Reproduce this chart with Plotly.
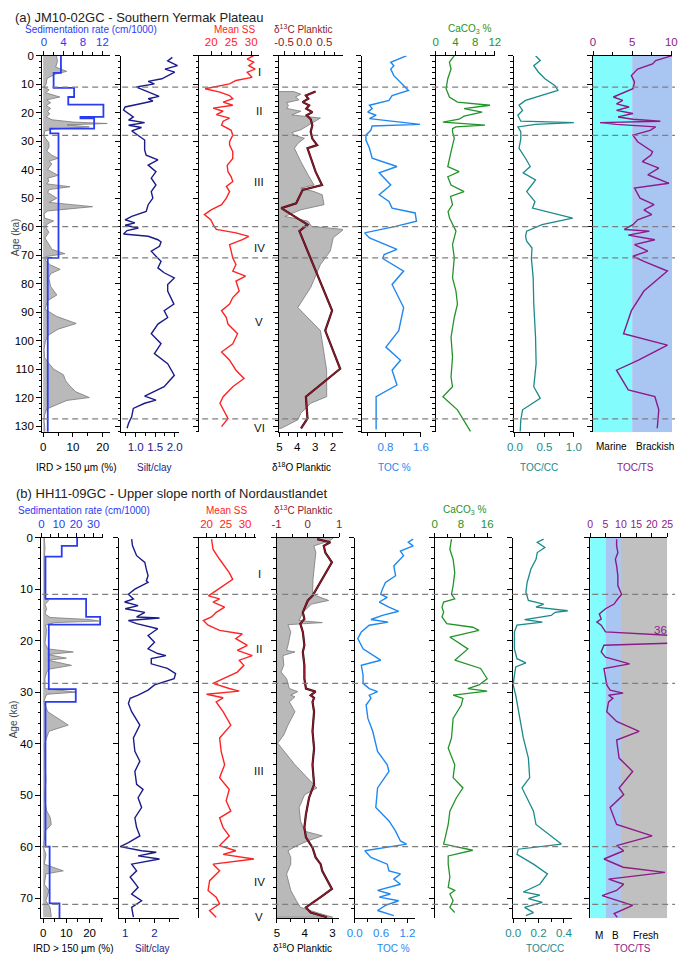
import plotly.graph_objects as go

# ======================= DATA (a) JM10-02GC =======================
ird_a = [(0,4.5),(2,4.8),(4,4.2),(5.5,7.9),(6.5,4.0),(8,1.3),(10,1.0),(11,0.3),(12,2.0),(13,0.8),
         (14.5,5.6),(15.5,1.2),(16.5,2.5),(17.5,1.0),(18.5,2.5),(19.5,1.5),(20.5,2.2),(21.5,1.0),
         (22.5,3.0),(23.3,10),(23.8,21.5),(24.3,8),(25,15.5),(25.8,3),(26.5,0.5),(28,0.3),(29,0.8),
         (30.5,1.9),(32,2.0),(33.5,1.2),(35,3.0),(36,5.1),(37,2.0),(38,2.9),(40,1.5),(42,5.0),(43,1.5),
         (44,1.9),(45,1.2),(46,9.0),(47,2.0),(48,1.5),(50,4.6),(51.5,2.0),(53,16.6),(54.5,1.5),
         (55.5,0.3),(57,0.5),(58,3.5),(59,1.5),(60,0.8),(62,1.9),(64,0.6),(66,1.9),(68,3.0),(69.5,7.3),
         (70.5,1.0),(72,0.8),(73.5,2.5),(75,5.7),(76.5,2.5),(78,1.9),(81,2.5),(84,4.6),(86,1.5),(89,0.6),
         (91.5,4.5),(94,11.1),(96,5),(98,1.9),(100,0.8),(103,0.3),(106,0.5),(108,1.9),(110,3.5),
         (112,6.8),(114,7.5),(116,9.0),(118,11),(120,15.5),(121,8),(122,5.7),(124,1.2),(126,0.5),
         (128,0.3),(130,0.5),(132,0.6)]
sed_a_tops = [0, 6, 11.3, 14.5, 17.2, 21.5, 22, 25.6, 27.3, 71]
sed_a_rates = [3.5, 2.0, 6.2, 5.0, 12.2, 7.5, 10.3, 1.3, 3.0, 0.8]
sed_a_base = 132
silt_a = [(0.6,1.94),(1.8,1.82),(3.5,2.07),(4.7,1.75),(5.8,2.0),(7.0,1.82),(8.1,1.67),(9.0,1.32),
          (9.9,1.48),(11.0,1.02),(12.2,1.23),(13.3,1.40),(14.3,1.6),(15.1,1.32),(15.9,1.44),(16.8,1.15),
          (18.0,0.73),(19.1,0.69),(20.3,0.82),(21.5,0.94),(22.6,0.82),(23.5,1.23),(24.4,0.82),(25.2,1.15),
          (26.4,0.9),(27.9,1.05),(29.6,1.23),(31.4,1.23),(33.1,1.23),(34.9,1.27),(36.6,1.57),(38.4,1.32),
          (40.7,1.52),(43.0,1.40),(45.4,1.52),(47.7,1.40),(50.0,1.44),(52.3,1.32),(54.7,1.27),(56.4,0.9),
          (57.6,0.73),(58.7,0.98),(59.5,0.73),(60.5,1.07),(61.4,0.78),(62.6,0.69),(63.4,1.32),(64.6,1.57),
          (65.4,1.65),(66.9,1.61),(68.6,1.40),(70.4,1.52),(72.2,1.65),(74.5,1.57),(76.2,1.73),(78.0,1.99),
          (80.3,1.82),(82.6,1.82),(84.9,1.9),(87.2,1.98),(89.5,1.73),(91.9,1.82),(94.2,1.57),(97.6,1.40),
          (101.1,1.65),(104.6,1.48),(108.1,1.82),(112.2,1.99),(116.2,1.73),(119.5,1.23),(120.9,1.52),
          (122.0,1.23),(123.8,0.94),(126.7,0.9),(129.0,0.82),(130.8,0.78)]
ss_a = [(0,30.6),(1.2,29.0),(2.3,30.6),(3.5,29.4),(4.7,31.0),(5.8,29.0),(7.6,30.2),(8.7,26.2),(9.9,24.6),
        (10.7,21.3),(11.6,18.5),(12.8,22.2),(14.0,24.6),(15.1,25.4),(16.3,23.0),(17.4,25.4),(18.4,20.5),
        (19.5,23.0),(20.7,21.3),(21.9,24.6),(23.0,23.0),(24.4,22.6),(26.2,25.0),(27.9,25.4),(30.2,24.6),
        (31.4,24.6),(33.7,25.4),(36.1,25.4),(38.5,24.0),(40.7,24.2),(42.5,25.0),(44.2,25.4),(45.9,23.8),
        (47.7,24.6),(50.0,23.8),(52.3,22.6),(54.1,20.0),(55.8,18.3),(57.6,19.9),(59.3,20.5),(61.0,21.3),
        (62.2,26.2),(63.4,29.4),(64.6,27.8),(66.3,24.6),(68.6,25.0),(71.0,25.4),(73.3,26.2),(75.6,25.4),
        (77.4,28.6),(79.1,26.2),(82.6,27.0),(84.9,25.4),(87.2,24.6),(89.5,22.6),(91.9,23.8),(94.2,24.2),
        (97.6,26.6),(101.1,25.4),(104.0,22.6),(106.9,24.6),(110.4,26.2),(113.3,28.2),(116.2,25.4),
        (119.7,23.0),(122.0,22.2),(125.0,23.4),(127.3,24.2),(130.2,22.6)]
d18o_a = [(12.6,4.2),(13.5,3.8),(14.5,4.1),(15.5,3.9),(16.5,4.6),(17.5,4.5),(18.5,4.6),(19.5,3.8),
          (20.8,4.3),(21.9,2.7),(23,3.0),(24,3.25),(26,3.8),(27,4.3),(27.9,4.16),(29,3.6),(30.8,3.97),
          (32.5,4.16),(37.2,3.8),(41.8,3.4),(45.4,3.06),(46.5,3.8),(47.7,3.06),(48.8,2.6),(52.3,2.5),
          (54.1,3.8),(56.4,4.7),(58.1,3.4),(59.9,3.2),(61,1.4),(63.9,1.98),(68.6,2.15),(73.3,2.7),
          (81.4,3.25),(88.4,3.97),(96.5,2.7),(104.6,2.5),(110.4,2.35),(119.7,2.35),(122,3.25),
          (125.5,3.8),(127.8,3.97),(130.8,4.9)]
d13c_a = [(12.6,0.28),(14.0,0.04),(15.1,0.1),(16.3,-0.04),(17.4,0.12),(18.6,0.05),(19.8,0.2),(20.9,0.06),
          (22.3,0.16),(24.4,0.2),(26.7,0.16),(29.1,0.2),(31.4,0.32),(32.5,0.08),(40.7,0.28),(45.4,0.44),
          (47.1,-0.04),(51.8,-0.2),(53.5,-0.57),(59.3,0.08),(61.6,-0.12),(89.5,0.69),(96.5,0.52),
          (109.9,0.89),(119.7,0.04),(127.3,0.08),(130.8,-0.08)]
toc_a = [(0,1.28),(2.3,0.92),(3.5,0.99),(4.7,0.92),(7.0,0.99),(9.3,1.14),(12.2,1.32),(14.0,0.95),
         (15.7,0.88),(17.4,0.44),(18.6,0.5),(19.8,0.4),(20.9,0.59),(22.1,0.44),(23.5,1.25),(24.1,1.58),
         (24.7,0.5),(26.2,0.47),(27.9,0.36),(29.6,0.36),(32.5,0.44),(36.0,0.5),(38.9,1.06),(41.1,0.66),
         (45.4,0.92),(48.8,0.66),(51.2,0.88),(53.5,0.95),(55.2,1.47),(58.1,1.5),(59.9,1.03),(62.2,0.33),
         (64.0,0.44),(66.3,0.81),(68.0,1.06),(69.8,0.77),(71.2,0.74),(75.6,1.21),(80.3,0.95),(88.4,1.21),
         (96.5,1.1),(102.3,0.81),(106.9,1.14),(110.4,0.95),(115.6,1.06),(119.7,0.59),(125.5,0.59),
         (131.2,0.59)]
caco3_a = [(0,3.76),(2.3,2.77),(4.7,3.1),(8.1,2.44),(11.6,2.1),(14.5,2.77),(16.3,4.4),(17.4,11.0),
           (18.6,5.74),(19.8,9.4),(21.2,5.74),(22.3,4.75),(23.3,1.45),(24.0,7.05),(24.4,10.0),(25.0,4.1),
           (25.6,3.4),(26.7,3.4),(29.0,3.76),(33.7,3.1),(38.9,2.44),(40.7,4.75),(42.5,2.44),(45.4,3.1),
           (47.7,5.74),(49.4,3.0),(52.3,3.4),(54.7,2.5),(57.0,2.8),(61.6,4.1),(66.3,3.4),(70.9,3.76),
           (78.0,3.4),(82.6,4.1),(87.2,4.4),(91.9,3.76),(98.8,3.1),(105.8,3.4),(112.8,3.1),(116.2,3.4),
           (119.7,1.45),(124.3,4.4),(127.3,5.4),(131.9,7.05)]
toccc_a = [(0,0.35),(1.7,0.43),(3.5,0.32),(5.8,0.40),(8.1,0.51),(10.5,0.68),(12.2,0.73),(14.0,0.46),
           (15.7,0.18),(17.4,0.07),(19.2,0.13),(20.9,0.05),(23.0,0.1),(23.5,1.0),(24.1,0.35),(25.0,0.05),
           (26.7,0.1),(29.1,0.1),(32.5,0.07),(36.0,0.18),(38.9,0.26),(41.1,0.14),(43.6,0.35),(47.7,0.2),
           (51.2,0.34),(53.5,0.3),(57.0,0.98),(59.3,0.46),(61.6,0.2),(63.4,0.18),(65.1,0.2),(67.5,0.29),
           (71.2,0.28),(78.0,0.31),(87.2,0.32),(98.8,0.35),(108.1,0.36),(116.2,0.32),(120.3,0.43),
           (124.3,0.13),(127.8,0.1),(131.9,0.09)]
tocts_a = [(0,10.1),(1.7,8.0),(2.9,7.6),(4.7,5.7),(7.0,4.9),(9.3,5.3),(11.6,5.1),(13.4,3.4),(14.5,2.6),
           (15.7,3.8),(16.9,3.0),(18.0,4.6),(19.2,3.0),(20.3,5.1),(21.5,3.2),(22.3,5.1),(23.0,8.6),
           (23.5,0.9),(24.1,3.0),(25.0,8.0),(26.2,7.3),(27.9,5.1),(30.2,5.7),(33.7,7.6),(34.9,7.4),
           (37.2,6.3),(39.5,8.4),(41.8,7.0),(44.8,9.7),(46.5,5.3),(50.0,6.0),(52.3,7.8),(54.1,6.5),
           (55.8,7.5),(57.6,5.7),(59.3,5.1),(61.0,4.0),(61.6,7.2),(63.0,4.5),(64.6,7.9),(66.3,5.3),
           (68.6,7.0),(70.4,5.1),(72.2,6.5),(75.6,9.5),(82.6,6.5),(89.5,4.9),(97.6,3.9),(101.6,9.5),
           (106.9,5.8),(110.4,3.0),(117.3,4.5),(119.7,7.9),(124.3,8.4),(130.8,8.2)]
mis_a = [11, 28, 60, 71, 127.5]
roman_a = [("I", 5.8), ("II", 19.4), ("III", 44.2), ("IV", 67.4), ("V", 93.6), ("VI", 130.8)]

# ======================= DATA (b) HH11-09GC =======================
ird_b = [(0,0.5),(2,0.8),(4,0.5),(6,0.6),(8,0.5),(10,0.6),(11.5,0.5),(12.2,2.4),(13,0.8),(13.8,1.5),
         (14.8,0.8),(15.5,3),(15.9,20),(16.2,24),(16.5,5),(17,1.0),(18,1.5),(19.6,1.2),(20.5,0.8),
         (21.6,2.0),(22.2,13),(22.7,2.0),(23.4,10),(23.8,2.0),(24.8,12.2),(25.5,3),(26.1,1.5),(27.3,0.8),
         (29.3,0.8),(30.0,14.3),(30.4,2),(30.7,1.2),(31.9,0.3),(33.8,2.0),(35.1,6.6),(36.4,10.8),
         (37.6,2.5),(40.2,0.5),(44.1,0.8),(47,1.2),(50.5,0.5),(53,1.5),(54.4,3.1),(55.7,3.5),(57.0,0.8),
         (60.2,0.2),(61.5,1.2),(63.4,0.5),(64.7,8.7),(65.3,1.2),(67.3,0.5),(68.5,2.5),(70.5,1.2),
         (71.8,3.0),(73.7,3.5)]
sed_b_tops = [0, 1.6, 3.7, 11.9, 15.4, 16.9, 29.4, 31.9, 60, 71]
sed_b_rates = [20.6, 11.7, 2.3, 25.8, 33.9, 4.2, 19.8, 2.3, 4.7, 10.4]
sed_b_base = 74
silt_b = [(0.3,1.22),(1.6,1.25),(3.5,1.39),(4.8,1.67),(6.1,1.72),(7.4,1.78),(8.4,1.72),(8.7,1.78),
          (10.0,1.33),(11.0,1.11),(11.9,1.28),(12.5,0.98),(13.2,1.44),(13.8,1.0),(14.5,1.67),(15.4,1.39),
          (15.6,2.17),(16.1,1.11),(16.7,1.39),(17.7,2.11),(19.0,1.78),(20.3,2.0),(21.6,1.78),(22.5,2.11),
          (22.9,2.39),(23.5,1.89),(24.5,1.89),(25.4,2.44),(26.4,2.72),(27.4,2.67),(28.6,2.0),(29.6,1.78),
          (30.6,1.44),(31.2,1.17),(32.2,1.11),(33.8,1.22),(36.4,1.5),(38.9,1.28),(41.5,1.33),(43.4,1.5),
          (45.4,1.33),(47.9,1.39),(48.9,1.61),(50.5,1.44),(52.4,1.56),(54.4,1.33),(56.3,1.39),(57.9,1.5),
          (59.2,1.11),(60.0,0.83),(60.8,1.56),(61.1,2.06),(61.8,1.44),(62.4,2.17),(63.4,1.22),(64.7,1.39),
          (65.9,1.17),(67.9,1.44),(69.2,1.22),(70.5,1.56),(71.8,1.22),(73.7,1.28)]
ss_b = [(0.3,21.3),(2.3,21.7),(4.2,23.4),(5.5,24.7),(6.8,25.9),(8.1,26.8),(9.3,24.3),(10.3,22.5),
        (11.3,20.5),(11.9,23.4),(12.5,21.7),(13.5,24.7),(14.5,22.5),(15.4,21.3),(16.1,19.2),(17.0,20.4),
        (18.0,23.4),(18.7,29.3),(19.6,27.6),(20.9,30.6),(21.9,28.0),(22.9,31.9),(23.8,28.5),(24.8,29.7),
        (26.1,28.0),(27.4,24.3),(28.3,21.7),(29.3,25.9),(29.8,28.5),(30.4,20.0),(31.1,24.3),(31.9,22.5),
        (33.8,24.3),(36.4,26.3),(38.9,23.4),(41.5,23.8),(44.1,24.7),(46.6,23.4),(48.9,25.9),(51.1,25.1),
        (53.1,26.3),(54.4,23.4),(56.3,24.3),(57.9,25.9),(59.8,23.4),(60.8,27.6),(61.5,24.3),(62.4,32.3),
        (63.4,21.7),(64.7,23.4),(66.6,20.8),(68.5,20.4),(69.8,22.5),(71.1,23.4),(72.4,20.8),(73.7,22.5)]
d18o_b = [(0,2.96),(0.6,3.1),(1.6,3.67),(2.9,3.6),(5,3.65),(8,3.7),(11,3.72),(12.2,3.14),(12.9,3.75),
          (14.5,4.07),(16.1,4.2),(16.5,3.37),(16.9,4.6),(18.3,4.5),(20.9,4.6),(21.9,4.65),(22.2,4.35),
          (22.9,4.78),(24.8,4.75),(26.1,4.85),(27.4,4.65),(28.3,4.6),(29.3,4.55),(29.9,4.25),(30.6,4.5),
          (30.9,4.35),(31.9,4.55),(33.8,4.35),(36.4,4.6),(38.3,4.75),(39.9,4.97),(44.1,4.35),(47.4,3.78),
          (48.6,3.56),(49.9,4.0),(52.4,4.2),(55.0,4.15),(57.0,4.0),(57.9,3.37),(58.9,3.9),(60.0,4.35),
          (60.8,4.6),(62.1,4.5),(63.4,4.5),(65.3,4.65),(66.6,4.6),(68.5,4.5),(70.5,4.3),(71.8,4.15),
          (73.0,3.45),(73.7,3.0)]
d13c_b = [(0.3,0.30),(0.9,0.72),(1.6,0.51),(2.9,0.56),(4.8,0.77),(11.3,0.15),(12.2,0.0),(14.5,-0.16),
          (15.8,-0.11),(16.7,-0.24),(18.3,-0.16),(20.9,-0.11),(22.2,-0.16),(24.8,-0.11),(27.4,-0.11),
          (29.3,-0.06),(29.9,0.25),(30.6,0.09),(31.1,0.2),(31.9,0.15),(33.8,0.2),(37.6,0.15),(40.9,0.2),
          (44.1,0.15),(47.9,0.2),(50.5,0.04),(53.7,-0.06),(56.3,-0.11),(58.2,-0.06),(60.2,0.15),
          (62.1,0.25),(63.4,0.41),(64.7,0.46),(68.2,0.77),(69.8,0.41),(71.8,-0.06),(72.8,0.09),(73.7,0.61)]
toc_b = [(0.3,1.33),(0.9,1.22),(1.6,1.33),(2.6,1.04),(3.5,1.11),(5.5,0.89),(7.4,0.93),(8.7,0.7),
         (10.0,0.63),(11.0,0.59),(11.6,0.74),(12.5,0.56),(13.5,0.78),(14.3,1.0),(15.1,0.63),(15.9,0.37),
         (16.4,0.76),(17.0,0.33),(18.3,0.15),(19.6,0.07),(21.6,0.19),(23.8,0.59),(24.8,0.15),(26.7,0.19),
         (28.3,0.19),(29.3,0.33),(29.9,0.52),(30.6,0.33),(31.2,0.37),(32.5,0.26),(35.1,0.3),(37.6,0.41),
         (41.5,0.52),(44.1,0.74),(45.4,0.78),(48.6,0.52),(52.4,0.48),(55.0,0.78),(57.0,0.93),(58.9,1.04),
         (59.5,1.18),(60.8,0.23),(62.1,0.37),(63.4,0.74),(64.7,0.78),(65.3,1.04),(66.3,0.89),(67.3,1.04),
         (68.5,0.52),(69.2,0.81),(69.8,0.56),(70.5,1.0),(71.4,0.7),(72.4,0.52),(73.4,0.89)]
caco3_b = [(0.3,5.1),(2.3,4.6),(4.2,5.6),(6.8,6.1),(9.3,5.6),(11.0,5.1),(11.9,6.1),(12.5,2.7),(13.5,2.2),
           (14.5,2.7),(15.4,2.2),(16.7,3.65),(17.4,11.6),(18.0,13.5),(19.3,4.6),(21.6,10.1),(23.8,6.1),
           (25.4,14.0),(27.4,16.0),(28.6,13.5),(29.3,10.1),(29.8,16.0),(30.6,5.6),(31.2,8.6),(32.5,8.1),
           (35.1,5.6),(38.9,5.1),(40.9,4.1),(44.1,6.1),(46.6,5.6),(48.6,8.6),(50.5,6.6),(53.1,4.6),
           (55.7,4.1),(58.2,3.2),(59.5,2.7),(60.7,11.6),(61.8,4.1),(63.4,4.1),(65.9,4.6),(67.9,4.1),
           (68.5,6.1),(69.2,4.6),(70.5,5.6),(71.8,4.6),(72.8,6.1)]
toccc_b = [(0.3,0.24),(0.9,0.19),(1.9,0.25),(2.9,0.19),(4.2,0.18),(6.1,0.14),(8.7,0.11),(10.6,0.1),
           (12.2,0.12),(12.9,0.24),(13.5,0.18),(14.2,0.43),(14.5,0.33),(15.1,0.3),(15.9,0.09),(16.4,0.23),
           (17.0,0.03),(18.3,0.01),(21.6,0.01),(23.5,0.03),(24.3,0.1),(25.1,0.02),(26.7,0.01),(28.6,0.0),
           (30.6,0.02),(34.4,0.05),(38.9,0.08),(42.8,0.12),(46.6,0.13),(48.6,0.07),(53.1,0.16),(55.7,0.18),
           (58.2,0.31),(59.5,0.38),(60.5,0.04),(61.5,0.03),(63.4,0.16),(65.3,0.27),(67.3,0.21),(68.8,0.08),
           (69.4,0.21),(70.1,0.12),(70.8,0.23),(71.8,0.09),(72.8,0.16),(73.4,0.1)]
tocts_b = [(0.3,8.6),(1.6,8.6),(2.9,9.0),(4.2,8.2),(5.5,8.6),(7.4,9.0),(9.3,9.0),(11.0,10.2),(12.2,8.6),
           (12.9,7.8),(13.8,5.0),(14.8,3.0),(15.8,3.6),(16.4,2.2),(17.0,3.6),(18.3,5.0),(19.3,36),
           (20.3,36),(20.9,4.5),(22.2,3.6),(23.2,5.0),(24.5,12.8),(25.4,4.5),(27.4,5.0),(28.6,5.4),
           (29.6,6.5),(30.2,10.7),(30.6,6.0),(31.2,7.4),(31.9,6.0),(33.8,5.4),(35.7,8.6),(37.6,15.9),
           (39.3,8.6),(42.8,9.4),(45.4,13.8),(48.6,9.4),(49.9,10.9),(52.4,6.5),(55.7,8.6),(57.9,20.1),
           (59.8,8.6),(60.8,10.9),(62.4,4.5),(64.0,10.7),(65.0,24.3),(66.3,6.0),(67.3,10.9),(68.5,8.6),
           (69.5,3.9),(71.4,13.8),(73.0,7.8),(73.7,8.8)]
mis_b = [11, 28.3, 60, 71.2]
roman_b = [("I", 7.1), ("II", 21.6), ("III", 45.4), ("IV", 66.9), ("V", 73.7)]

# ======================= STYLE =======================
W, H = 685, 955
FONT = "Arial, Liberation Sans, sans-serif"
C_SED = "#2a3cf2"
C_SILT = "#1b1b8c"
C_SS = "#ff2323"
C_D13 = "#8c1a2c"
C_TOC = "#1e88f0"
C_CACO3 = "#23942a"
C_TOCCC = "#1a8a8c"
C_TOCTS = "#8c1a88"
C_FILL = "#b9b9b9"
C_EDGE = "#7a7a7a"

fig = go.Figure()
layout = {}
cnt = {"x": 0, "y": 0}


def ref(k, n):
    return k if n == 1 else f"{k}{n}"


def key(k, n):
    return f"{k}axis" if n == 1 else f"{k}axis{n}"


def spec(side, rng, vals, texts, color, minor=None, size=11.5):
    return dict(side=side, range=rng, tickvals=vals, ticktext=texts, color=color, minor=minor, size=size)


def column(left, right, panel, specs, ylabels=False):
    cnt["y"] += 1
    yid = cnt["y"]
    xids = []
    for i, s in enumerate(specs):
        cnt["x"] += 1
        xid = cnt["x"]
        ax = dict(range=s["range"], side=s["side"], anchor=ref("y", yid), showline=True,
                  linecolor="black", linewidth=1, ticks="outside", ticklen=4, tickwidth=1,
                  tickcolor="black", tickmode="array", tickvals=s["tickvals"], ticktext=s["ticktext"],
                  tickfont=dict(family=FONT, size=s["size"], color=s["color"]),
                  showgrid=False, zeroline=False, fixedrange=True)
        if s["minor"]:
            ax["minor"] = dict(tickmode="array", tickvals=s["minor"], ticks="outside", ticklen=2.5,
                               tickcolor="black", showgrid=False)
        if i == 0:
            ax["domain"] = [left / W, right / W]
        else:
            ax["overlaying"] = ref("x", xids[0])
        layout[key("x", xid)] = ax
        xids.append(xid)
    layout[key("y", yid)] = dict(domain=[1 - panel["bot"] / H, 1 - panel["top"] / H], range=panel["yr"],
                                 anchor=ref("x", xids[0]), side="left", showline=True, linecolor="black",
                                 linewidth=1, ticks="outside", ticklen=5, tickwidth=1, tickcolor="black",
                                 tick0=0, dtick=10, showticklabels=ylabels,
                                 minor=dict(dtick=2, ticks="outside", ticklen=2.5, tickcolor="black",
                                            showgrid=False),
                                 tickfont=dict(family=FONT, size=11.5, color="black"),
                                 showgrid=False, zeroline=False, fixedrange=True)
    return yid, xids


def unzip(pairs):
    return [p[1] for p in pairs], [p[0] for p in pairs]


def steps(tops, rates, base):
    xs, ys = [], []
    for t, b, r in zip(tops, tops[1:] + [base], rates):
        xs += [r, r]
        ys += [t, b]
    return xs, ys


def line(xid, yid, pairs_or_xy, color, width=1.3, xy=False):
    xs, ys = pairs_or_xy if xy else unzip(pairs_or_xy)
    fig.add_trace(go.Scatter(x=xs, y=ys, mode="lines", line=dict(color=color, width=width),
                             xaxis=ref("x", xid), yaxis=ref("y", yid), showlegend=False, hoverinfo="skip"))


def fill_zero(xid, yid, pairs):
    xs, ys = unzip(pairs)
    fig.add_trace(go.Scatter(x=xs, y=ys, mode="lines", fill="tozerox", fillcolor=C_FILL,
                             line=dict(color=C_EDGE, width=0.8), xaxis=ref("x", xid), yaxis=ref("y", yid),
                             showlegend=False, hoverinfo="skip"))


def fill_base(xid, yid, pairs, base):
    xs, ys = unzip(pairs)
    fig.add_trace(go.Scatter(x=[base] + xs + [base], y=[ys[0]] + ys + [ys[-1]], mode="lines", fill="toself",
                             fillcolor=C_FILL, line=dict(color=C_EDGE, width=0.8), xaxis=ref("x", xid),
                             yaxis=ref("y", yid), showlegend=False, hoverinfo="skip"))


shapes = []
annots = []


def txt(s, x, y, color="black", size=11, xanchor="center", angle=0):
    annots.append(dict(text=s, x=x / W, y=1 - y / H, xref="paper", yref="paper", showarrow=False,
                       xanchor=xanchor, yanchor="middle", textangle=angle,
                       font=dict(family=FONT, size=size, color=color)))


def rect(xid, yid, x0, x1, y1, color):
    shapes.append(dict(type="rect", xref=ref("x", xid), yref=ref("y", yid), x0=x0, x1=x1, y0=0, y1=y1,
                       fillcolor=color, line=dict(width=0), layer="below"))


def build_panel(P, cols, data, bg, mis, roman):
    ids = []
    for (l, r, sp, yl) in cols:
        ids.append(column(l, r, P, sp, yl))
    (y1, x1), (y2, x2), (y3, x3), (y4, x4), (y5, x5), (y6, x6), (y7, x7), (y8, x8) = ids
    for (a, b, c) in bg:
        rect(x8[0], y8, a, b, P["yr"][0], c)
    fill_zero(x1[0], y1, data["ird"])
    line(x1[1], y1, steps(*data["sed"]), C_SED, 1.8, xy=True)
    line(x2[0], y2, data["silt"], C_SILT, 1.4)
    line(x3[0], y3, data["ss"], C_SS, 1.4)
    fill_base(x4[0], y4, data["d18o"], 5.3)
    line(x4[1], y4, data["d13c"], "#3a0a10", 2.2)
    line(x4[1], y4, data["d13c"], C_D13, 1.3)
    line(x5[0], y5, data["toc"], C_TOC, 1.4)
    line(x6[0], y6, data["caco3"], C_CACO3, 1.3)
    line(x7[0], y7, data["toccc"], C_TOCCC, 1.3)
    line(x8[0], y8, data["tocts"], C_TOCTS, 1.4)
    for m in mis:
        shapes.append(dict(type="line", xref="paper", yref=ref("y", y1), x0=35 / W, x1=683 / W, y0=m, y1=m,
                           line=dict(color="#7f7f7f", width=1.3, dash="6px,4px"), layer="above"))
    for s, a in roman:
        annots.append(dict(text=s, x=257.5 / W, y=a, xref="paper", yref=ref("y", y1), showarrow=False,
                           xanchor="center", yanchor="middle",
                           font=dict(family=FONT, size=11.5, color="#111111")))


# ----- panel (a) -----
PA = dict(top=50, bot=429, yr=[132.2, 0])
cols_a = [
    (35, 104, [spec("bottom", [-0.33, 22.3], [0, 10, 20], ["0", "10", "20"], "black", [5, 15]),
               spec("top", [-0.34, 13.46], [0, 4, 8, 12], ["0", "4", "8", "12"], C_SED, [2, 6, 10])], True),
    (116, 175, [spec("bottom", [0.6325, 2.1075], [1.0, 1.5, 2.0], ["1.0", "1.5", "2.0"], C_SILT,
                     [0.75, 1.25, 1.75])], False),
    (196, 257, [spec("top", [17.07, 31.95], [20, 25, 30], ["20", "25", "30"], C_SS, [22.5, 27.5])], False),
    (277, 343, [spec("bottom", [5.055, 1.434], [5, 4, 3, 2], ["5", "4", "3", "2"], "black", [4.5, 3.5, 2.5]),
                spec("top", [-0.638, 0.96], [-0.5, 0, 0.5], ["-0.5", "0.0", "0.5"], C_D13,
                     [-0.25, 0.25, 0.75])], False),
    (362, 423, [spec("bottom", [0.261, 1.605], [0.8, 1.6], ["0.8", "1.6"], C_TOC, [0.4, 1.2])], False),
    (438, 499, [spec("top", [0, 12.1], [0, 4, 8, 12], ["0", "4", "8", "12"], C_CACO3, [2, 6, 10])], False),
    (518, 580, [spec("bottom", [-0.017, 1.01], [0, 0.5, 1.0], ["0.0", "0.5", "1.0"], C_TOCCC,
                     [0.25, 0.75])], False),
    (599, 680, [spec("top", [0, 10.1], [0, 5, 10], ["0", "5", "10"], C_TOCTS, [2.5, 7.5])], False),
]
data_a = dict(ird=ird_a, sed=(sed_a_tops, sed_a_rates, sed_a_base), silt=silt_a, ss=ss_a, d18o=d18o_a,
              d13c=d13c_a, toc=toc_a, caco3=caco3_a, toccc=toccc_a, tocts=tocts_a)
build_panel(PA, cols_a, data_a, [(0, 5, "#82fcfc"), (5, 10.1, "#a9c5f2")], mis_a, roman_a)

# ----- panel (b) -----
PB = dict(top=535, bot=918, yr=[73.9, 0])
cols_b = [
    (34, 97, [spec("bottom", [-0.84, 25.7], [0, 10, 20], ["0", "10", "20"], "black", [5, 15, 25]),
              spec("top", [-0.17, 35.4], [0, 10, 20, 30], ["0", "10", "20", "30"], C_SED,
                   [5, 15, 25, 35])], True),
    (114, 175, [spec("bottom", [0.8, 2.833], [1, 2], ["1", "2"], C_SILT, [1.5, 2.5])], False),
    (196, 254, [spec("top", [18.15, 32.87], [20, 25, 30], ["20", "25", "30"], C_SS, [22.5, 27.5, 32.5])], False),
    (275, 339, [spec("bottom", [5.01, 2.765], [5, 4, 3], ["5", "4", "3"], "black", [4.5, 3.5]),
                spec("top", [-1.0, 1.0], [-1, 0, 1], ["-1", "0", "1"], C_D13, [-0.5, 0.5])], False),
    (355, 417, [spec("bottom", [0, 1.378], [0, 0.6, 1.2], ["0.0", "0.6", "1.2"], C_TOC, [0.3, 0.9])], False),
    (437, 496, [spec("top", [0, 17.6], [0, 8, 16], ["0", "8", "16"], C_CACO3, [4, 12])], False),
    (517, 577, [spec("bottom", [-0.002, 0.46], [0, 0.2, 0.4], ["0.0", "0.2", "0.4"], C_TOCCC,
                     [0.1, 0.3])], False),
    (596, 675, [spec("top", [0, 25], [0, 5, 10, 15, 20, 25], ["0", "5", "10", "15", "20", "25"], C_TOCTS,
                     None, 10.5)], False),
]
data_b = dict(ird=ird_b, sed=(sed_b_tops, sed_b_rates, sed_b_base), silt=silt_b, ss=ss_b, d18o=d18o_b,
              d13c=d13c_b, toc=toc_b, caco3=caco3_b, toccc=toccc_b, tocts=tocts_b)
build_panel(PB, cols_b, data_b, [(0, 5, "#82fcfc"), (5, 10, "#a9c5f2"), (10, 25, "#c0c0c0")], mis_b, roman_b)

# ----- text -----
TS = 10
txt("(a) JM10-02GC - Southern Yermak Plateau", 5, 11.5, "#222222", 13, "left")
txt("Sedimentation rate (cm/1000)", 85, 23.5, C_SED, TS)
txt("Mean SS", 232, 23.5, C_SS, TS)
txt("δ<sup>13</sup>C Planktic", 302, 23.5, C_D13, TS)
txt("CaCO<sub>3</sub> %", 473, 23.5, C_CACO3, TS)
txt("IRD &gt; 150 µm (%)", 70, 464, "black", TS)
txt("Silt/clay", 149, 464, C_SILT, TS)
txt("δ<sup>18</sup>O Planktic", 301, 464, "black", TS)
txt("TOC %", 396, 464, C_TOC, TS)
txt("TOC/CC", 544, 464, C_TOCCC, TS)
txt("TOC/TS", 642, 464, C_TOCTS, TS)
txt("Marine", 618, 443, "black", TS)
txt("Brackish", 662, 443, "black", TS)
txt("Age (ka)", 8, 233, "#444444", TS, "center", -90)

txt("(b) HH11-09GC - Upper slope north of Nordaustlandet", 6, 491, "#222222", 13, "left")
txt("Sedimentation rate (cm/1000)", 78, 507.5, C_SED, TS)
txt("Mean SS", 224, 507.5, C_SS, TS)
txt("δ<sup>13</sup>C Planktic", 302, 507.5, C_D13, TS)
txt("CaCO<sub>3</sub> %", 467, 507.5, C_CACO3, TS)
txt("IRD &gt; 150 µm (%)", 67, 948, "black", TS)
txt("Silt/clay", 147, 948, C_SILT, TS)
txt("δ<sup>18</sup>O Planktic", 302, 948, "black", TS)
txt("TOC %", 395, 948, C_TOC, TS)
txt("TOC/CC", 550, 948, C_TOCCC, TS)
txt("TOC/TS", 639, 948, C_TOCTS, TS)
txt("M", 605, 935, "black", TS)
txt("B", 622, 935, "black", TS)
txt("Fresh", 653, 935, "black", TS)
txt("36", 668, 627.5, C_TOCTS, 11.5)
txt("Age (ka)", 6, 718, "#444444", TS, "center", -90)

fig.update_layout(width=W, height=H, autosize=False, margin=dict(l=0, r=0, t=0, b=0),
                  paper_bgcolor="white", plot_bgcolor="white", showlegend=False, hovermode=False,
                  shapes=shapes, annotations=annots, **layout)
fig.write_html("out.html", config={"displayModeBar": False},
               post_script="document.body.style.margin='0px';document.body.style.padding='0px';")
